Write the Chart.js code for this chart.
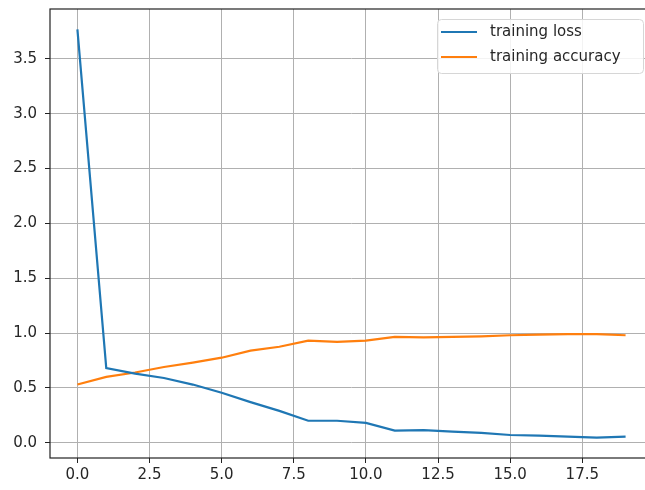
<!DOCTYPE html>
<html>
<head>
<meta charset="utf-8">
<script src="https://cdn.jsdelivr.net/npm/chart.js@4.4.0/dist/chart.umd.min.js"></script>
<style>
  html, body { margin: 0; padding: 0; background: #fff; overflow: hidden; }
  #wrap { width: 660px; height: 490px; }
</style>
</head>
<body>
<div id="wrap"><canvas id="lossChart" width="660" height="490"></canvas></div>
<script>
// values, one per epoch
const epochs = [0, 1, 2, 3, 4, 5, 6, 7, 8, 9, 10, 11, 12, 13, 14, 15, 16, 17, 18, 19];
const trainingLoss = [3.77, 0.68, 0.63, 0.59, 0.53, 0.455, 0.37, 0.29, 0.20, 0.20,
                      0.18, 0.11, 0.115, 0.10, 0.09, 0.07, 0.065, 0.055, 0.045, 0.055];
const trainingAccuracy = [0.53, 0.60, 0.64, 0.69, 0.73, 0.775, 0.84, 0.875, 0.93, 0.92,
                          0.93, 0.965, 0.96, 0.965, 0.97, 0.98, 0.985, 0.99, 0.99, 0.98];
const xTicks = [0, 2.5, 5, 7.5, 10, 12.5, 15, 17.5];
const yTicks = [0, 0.5, 1.0, 1.5, 2.0, 2.5, 3.0, 3.5];

const FONT = { family: 'DejaVu Sans', size: 15 };
const TEXT = '#262626';

// matplotlib-style frame around the axes + legend box inside the plot
const framePlugin = {
  id: 'frame',
  afterDraw(chart) {
    const { ctx, chartArea: a } = chart;
    ctx.save();
    ctx.strokeStyle = '#222';
    ctx.lineWidth = 1.2;
    ctx.strokeRect(a.left, a.top, a.right - a.left, a.bottom - a.top);

    // legend
    const x = 437, y = 19, w = 206, h = 54, r = 4;
    ctx.fillStyle = 'rgba(255,255,255,0.85)';
    ctx.strokeStyle = '#d6d6d6';
    ctx.lineWidth = 1;
    ctx.beginPath();
    ctx.roundRect(x + 0.5, y + 0.5, w, h, r);
    ctx.fill();
    ctx.stroke();
    ctx.font = '15px "DejaVu Sans"';
    ctx.textBaseline = 'middle';
    chart.data.datasets.forEach((ds, i) => {
      const ly = 32 + i * 25;
      ctx.strokeStyle = ds.borderColor;
      ctx.lineWidth = 2.2;
      ctx.beginPath();
      ctx.moveTo(441, ly);
      ctx.lineTo(477, ly);
      ctx.stroke();
      ctx.fillStyle = TEXT;
      ctx.fillText(ds.label, 490, ly);
    });
    ctx.restore();
  }
};

new Chart(document.getElementById('lossChart').getContext('2d'), {
  type: 'line',
  data: {
    datasets: [
      {
        label: 'training loss',
        data: epochs.map((e, i) => ({ x: e, y: trainingLoss[i] })),
        borderColor: '#1f77b4',
        borderWidth: 2.2,
        pointRadius: 0,
        tension: 0,
      },
      {
        label: 'training accuracy',
        data: epochs.map((e, i) => ({ x: e, y: trainingAccuracy[i] })),
        borderColor: '#ff7f0e',
        borderWidth: 2.2,
        pointRadius: 0,
        tension: 0,
      },
    ],
  },
  options: {
    responsive: false,
    animation: false,
    layout: { padding: { top: 9, right: 7, left: 0, bottom: 0 } },
    plugins: {
      legend: { display: false },
      tooltip: { enabled: false },
    },
    scales: {
      x: {
        type: 'linear',
        min: -0.95,
        max: 19.95,
        afterBuildTicks: s => { s.ticks = xTicks.map(v => ({ value: v })); },
        afterFit: s => { s.height = 32; s.paddingLeft = 0; s.paddingRight = 0; },
        grid: { color: '#b0b0b0', lineWidth: 1, tickColor: '#222', tickLength: 5 },
        border: { display: false },
        ticks: {
          font: FONT,
          color: TEXT,
          padding: 3,
          maxRotation: 0,
          callback: v => Number(v).toFixed(1),
        },
      },
      y: {
        type: 'linear',
        min: -0.14,
        max: 3.956,
        afterBuildTicks: s => { s.ticks = yTicks.map(v => ({ value: v })); },
        afterFit: s => { s.width = 50; s.paddingTop = 0; s.paddingBottom = 0; },
        grid: { color: '#b0b0b0', lineWidth: 1, tickColor: '#222', tickLength: 5 },
        border: { display: false },
        ticks: {
          font: FONT,
          color: TEXT,
          padding: 8,
          callback: v => Number(v).toFixed(1),
        },
      },
    },
  },
  plugins: [framePlugin],
});
</script>
</body>
</html>
